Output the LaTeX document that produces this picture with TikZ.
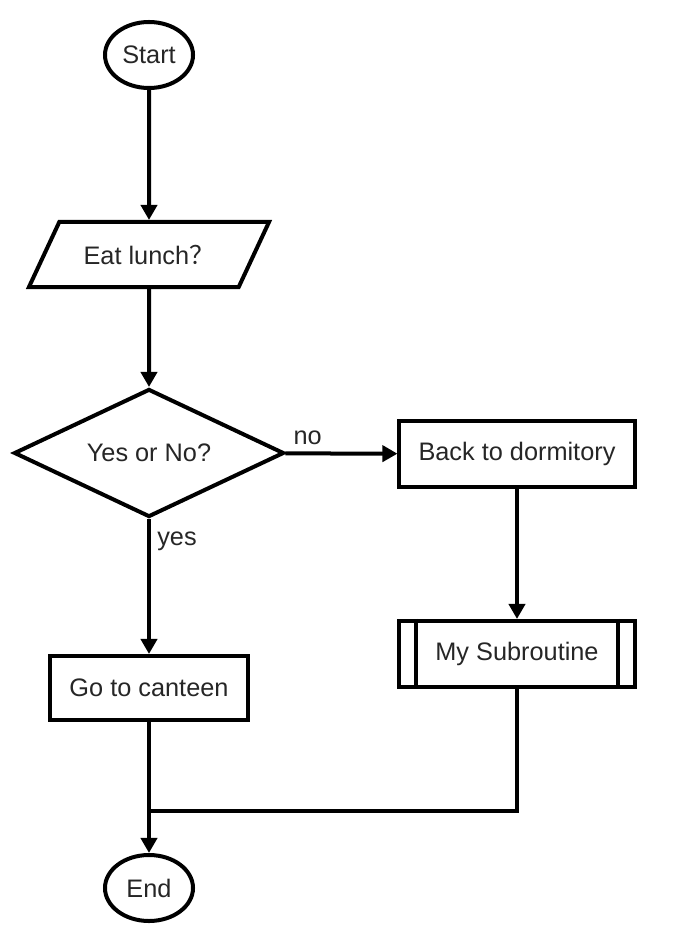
\documentclass[tikz,border=0pt]{standalone}
\usepackage{fontspec}
\setmainfont{Liberation Sans}
\newfontfamily\cjk{Noto Sans CJK SC}
\usetikzlibrary{arrows.meta, positioning, shapes.geometric}

\begin{document}
\begin{tikzpicture}[
    x=0.025cm, y=-0.025cm,
    every node/.style={font=\fontsize{18pt}{21pt}\selectfont, text=black!85},
    terminal/.style={ellipse, draw=black, line width=0.1cm, inner sep=0pt, minimum width=2.2cm, minimum height=1.65cm},
    io/.style={trapezium, trapezium left angle=63, trapezium right angle=117, trapezium stretches body=true, draw=black, line width=0.1cm, inner xsep=0pt, inner ysep=0.5cm, minimum width=6cm, minimum height=1.625cm},
    decision/.style={diamond, shape aspect=1.97, draw=black, line width=0.1cm, inner sep=0pt, minimum width=6.75cm, minimum height=3.2cm},
    block/.style={rectangle, draw=black, line width=0.1cm, inner sep=0pt, minimum width=5.875cm, minimum height=1.65cm},
    arrow/.style={-{Triangle[length=0.375cm, width=0.4cm]}, line width=0.1cm},
    line/.style={line width=0.1cm},
    signal/.style={font=\fontsize{18pt}{21pt}\selectfont}
]
\useasboundingbox (0,0) rectangle (687,947);

\node[terminal] (start) at (149,55) {Start};
\node[io] (lunch) at (149,254.5) {Eat lunch{\cjk ？}};
\node[decision] (choice) at (149,453) {Yes or No?};
\node[block] (dorm) at (517,454) {Back to dormitory};
\node[block] (sub) at (517,654) {My Subroutine};
\node[block, minimum width=4.925cm, minimum height=1.6cm] (canteen) at (149,688) {Go to canteen};
\node[terminal] (end) at (149,888) {End};
\coordinate (merge) at (149,811);

\draw[arrow] (start) -- (lunch);
\draw[arrow] (lunch) -- (choice);
\draw[arrow] (choice) -- node[pos=0.2, yshift=0.4cm, signal] {no} (dorm);
\draw[arrow] (dorm) -- (sub);
\draw[arrow] (choice) -- node[pos=0.167, xshift=0.7cm, signal] {yes} (canteen);
\draw[arrow] (canteen) -- (end);
\draw[line] (sub.south) |- (merge);

% subroutine side bars
\draw[line] ([xshift=0.475cm]sub.north west) -- ([xshift=0.475cm]sub.south west);
\draw[line] ([xshift=-0.475cm]sub.north east) -- ([xshift=-0.475cm]sub.south east);

\end{tikzpicture}
\end{document}
